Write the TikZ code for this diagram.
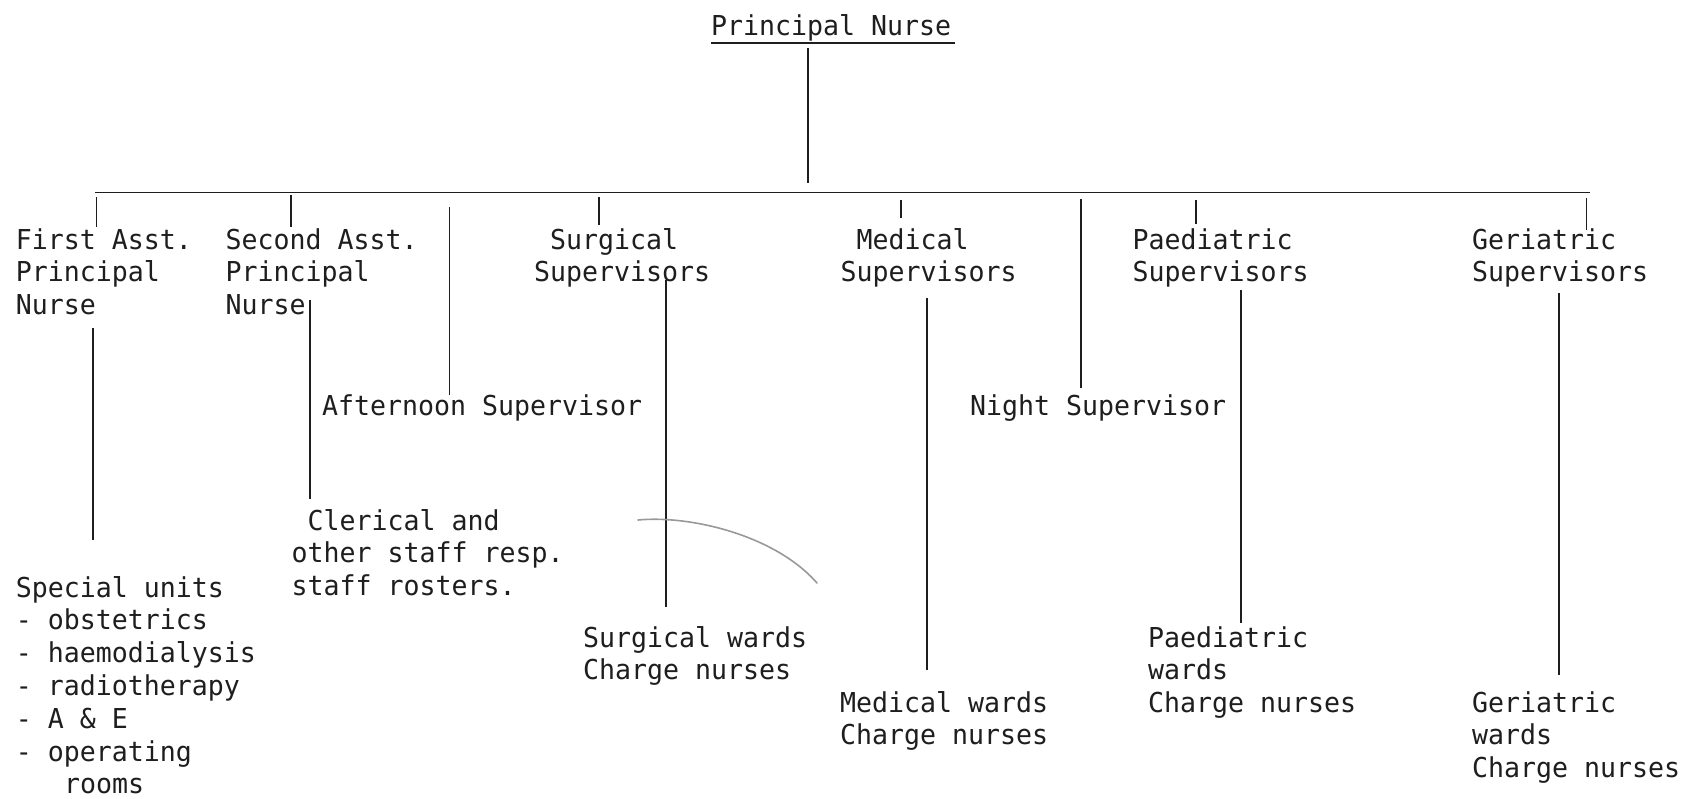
\documentclass[tikz,border=0pt]{standalone}
\usepackage{fontspec}
\newfontfamily\typewriter[FakeStretch=0.97]{DejaVu Sans Mono}
\newcommand{\colstack}[1]{\begin{tabular}[t]{@{}l@{}}#1\end{tabular}}
\renewcommand{\arraystretch}{1}
\definecolor{ink}{HTML}{1E1E1E}
\begin{document}
\begin{tikzpicture}[x=1pt,y=-1pt,
  lbl/.style={anchor=base west, inner sep=0pt, outer sep=0pt, text=ink,
    font=\typewriter\fontsize{27.4}{32.8}\selectfont},
  wire/.style={draw=ink, line width=1.2pt},
  bar/.style={draw=ink, line width=1.9pt},
  pencil/.style={draw=black!40, line width=1.6pt, line cap=round}]
\useasboundingbox[fill=white] (0,0) rectangle (1687,798);

% top post
\node[lbl] (pn) at (711,35) {Principal Nurse};
\draw[bar] ([yshift=-8pt]pn.base west) -- ([xshift=4pt,yshift=-8pt]pn.base east);

% main bar
\coordinate (pn-foot) at (808,48);
\coordinate (pn-bar) at (808,183);
\coordinate (bar-l) at (95,192.5);
\coordinate (bar-r) at (1590,192.5);
\draw[wire] (pn-foot) -- (pn-bar);
\draw[bar] (bar-l) -- (bar-r);

% second level posts
\node[lbl] (fa) at (16,249) {\colstack{First Asst.\\Principal\\Nurse}};
\node[lbl] (sa) at (225.6,249) {\colstack{Second Asst.\\Principal\\Nurse}};
\node[lbl] (ss) at (534,249) {\colstack{\hphantom{S}Surgical\\Supervisors}};
\node[lbl] (ms) at (840.7,249) {\colstack{\hphantom{S}Medical\\Supervisors}};
\node[lbl] (ps) at (1132.6,249) {\colstack{Paediatric\\Supervisors}};
\node[lbl] (gs) at (1472,249) {\colstack{Geriatric\\Supervisors}};
\node[lbl] (as) at (322,415) {Afternoon Supervisor};
\node[lbl] (ns) at (970,415) {Night Supervisor};

% short drops from the bar
\coordinate (fa-t1) at (96.5,197);  \coordinate (fa-t2) at (96.5,227);
\coordinate (sa-t1) at (291,195);   \coordinate (sa-t2) at (291,227);
\coordinate (ss-t1) at (599,197);   \coordinate (ss-t2) at (599,225);
\coordinate (ms-t1) at (901,200);   \coordinate (ms-t2) at (901,218);
\coordinate (ps-t1) at (1196,200);  \coordinate (ps-t2) at (1196,224);
\coordinate (gs-t1) at (1586.5,198); \coordinate (gs-t2) at (1586.5,230);
\foreach \n in {fa,sa,ss,ms,ps,gs} \draw[wire] (\n-t1) -- (\n-t2);

% drops to the shift supervisors
\coordinate (as-t1) at (449.5,207); \coordinate (as-t2) at (449.5,395);
\coordinate (ns-t1) at (1081,199);  \coordinate (ns-t2) at (1081,388);
\draw[wire] (as-t1) -- (as-t2);
\draw[wire] (ns-t1) -- (ns-t2);

% third level
\node[lbl] (su) at (16,597) {\colstack{Special units\\- obstetrics\\- haemodialysis\\- radiotherapy\\- A \& E\\- operating\\\hphantom{- o}rooms}};
\node[lbl] (cl) at (291.6,530) {\colstack{\hphantom{o}Clerical and\\other staff resp.\\staff rosters.}};
\node[lbl] (sw) at (583,647) {\colstack{Surgical wards\\Charge nurses}};
\node[lbl] (mw) at (840,712) {\colstack{Medical wards\\Charge nurses}};
\node[lbl] (pw) at (1148,647) {\colstack{Paediatric\\wards\\Charge nurses}};
\node[lbl] (gw) at (1472,712) {\colstack{Geriatric\\wards\\Charge nurses}};

% lower drops
\coordinate (fa-d1) at (93,328);    \coordinate (fa-d2) at (93,540);
\coordinate (sa-d1) at (310,300);   \coordinate (sa-d2) at (310,499);
\coordinate (ss-d1) at (666,280);   \coordinate (ss-d2) at (666,607);
\coordinate (ms-d1) at (927,298);   \coordinate (ms-d2) at (927,670);
\coordinate (ps-d1) at (1241,290);  \coordinate (ps-d2) at (1241,623);
\coordinate (gs-d1) at (1559,293);  \coordinate (gs-d2) at (1559,675);
\foreach \n in {fa,sa,ss,ms,ps,gs} \draw[wire] (\n-d1) -- (\n-d2);

% stray pencil stroke
\coordinate (arc-a) at (638,520);
\coordinate (arc-b) at (817,583);
\draw[pencil] (arc-a) .. controls (690,515) and (775,535) .. (arc-b);
\end{tikzpicture}
\end{document}
